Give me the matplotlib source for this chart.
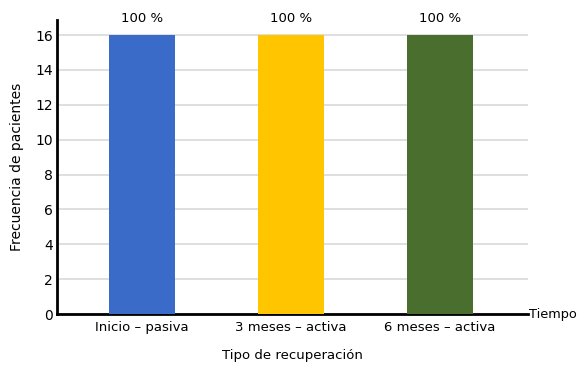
import matplotlib
matplotlib.use("Agg")
import matplotlib.pyplot as plt

categories = ["Inicio – pasiva", "3 meses – activa", "6 meses – activa"]
values = [16, 16, 16]
labels = ["100 %", "100 %", "100 %"]
colors = ["#3A6BC8", "#FFC600", "#4A6E2E"]
yticks = [0, 2, 4, 6, 8, 10, 12, 14, 16]

fig = plt.figure(figsize=(5.79, 3.67), dpi=100)
ax = fig.add_axes([0.0984, 0.1444, 0.8136, 0.801])

x = [0, 1, 2]
bars = ax.bar(x, values, width=0.44, color=colors, zorder=3)
for b, lab in zip(bars, labels):
    ax.text(b.get_x() + b.get_width() / 2, b.get_height() + 0.55, lab,
            ha="center", va="bottom", fontsize=9.5)

ax.set_xlim(-0.57, 2.59)
ax.set_ylim(0, 16.86)
ax.set_yticks(yticks)
ax.set_xticks(x)
ax.set_xticklabels(categories, fontsize=9.5)
ax.tick_params(axis="y", labelsize=10, length=0, pad=3)
ax.tick_params(axis="x", length=0, pad=5)
ax.yaxis.grid(True, color="#D9D9D9", linewidth=1.2, zorder=0)
ax.set_axisbelow(True)
for s in ["top", "right"]:
    ax.spines[s].set_visible(False)
ax.spines["left"].set_linewidth(2)
ax.spines["bottom"].set_linewidth(2)
ax.spines["left"].set_color("black")
ax.spines["bottom"].set_color("black")

ax.set_ylabel("Frecuencia de pacientes", fontsize=10, labelpad=8)
ax.set_xlabel("Tipo de recuperación", fontsize=9.5, labelpad=11)
ax.text(1.003, 0, "Tiempo", transform=ax.transAxes, ha="left", va="center", fontsize=9.3)

fig.savefig("out.png", dpi=100)
